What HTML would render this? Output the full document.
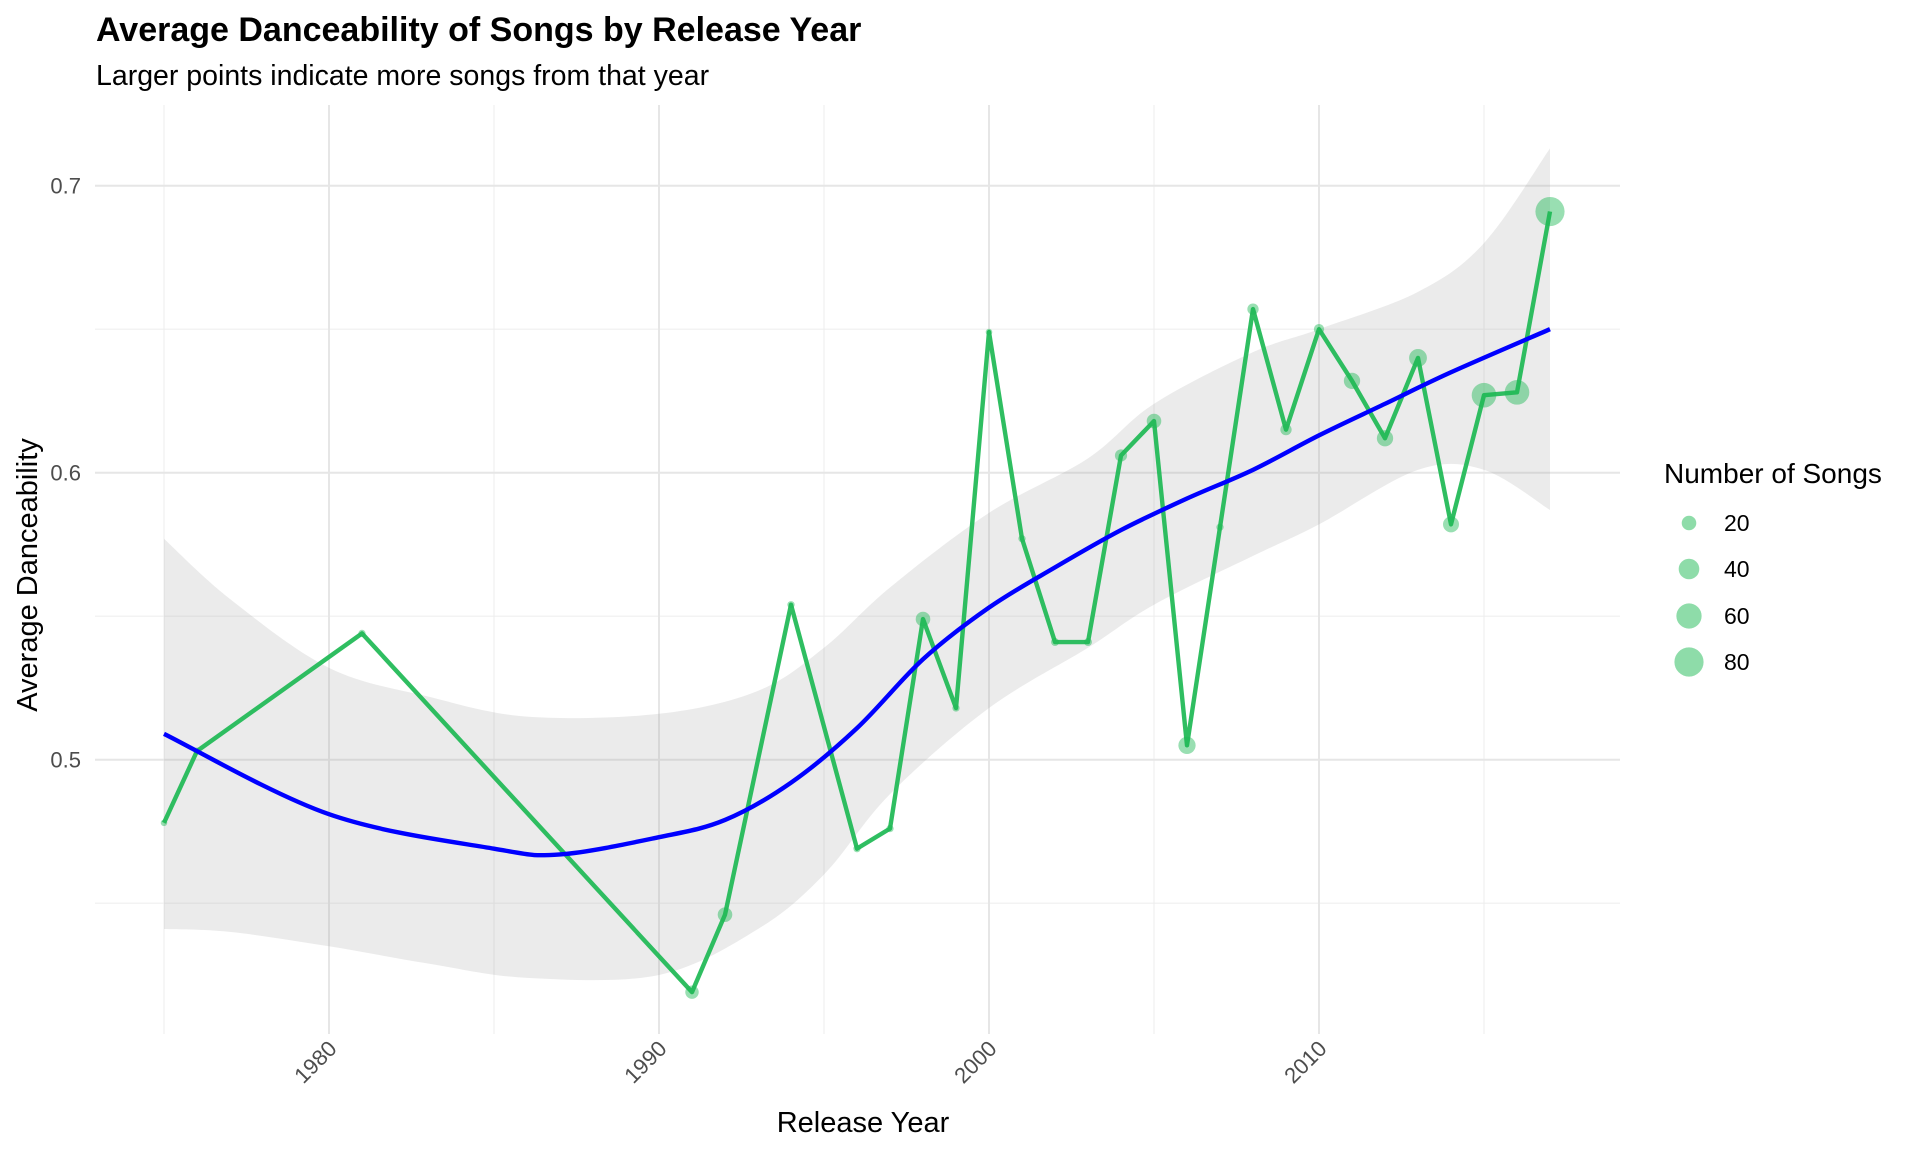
<!DOCTYPE html>
<html><head><meta charset="utf-8"><style>
html,body{margin:0;padding:0;background:#fff;}
svg{display:block;font-family:"Liberation Sans",Arial,sans-serif;}
</style></head><body>
<svg id="chart" width="1920" height="1152" viewBox="0 0 1920 1152" xmlns="http://www.w3.org/2000/svg">
<text x="96" y="41" font-size="34" font-weight="bold" fill="#000">Average Danceability of Songs by Release Year</text>
<text x="96" y="85" font-size="28.5" fill="#000">Larger points indicate more songs from that year</text>
<g id="grid"></g>
<g id="ribbon"></g>
<g id="series"></g>
<g id="axes"></g>
<text transform="translate(37,575) rotate(-90)" text-anchor="middle" font-size="29" fill="#000">Average Danceability</text>
<text x="863" y="1132" text-anchor="middle" font-size="29" fill="#000">Release Year</text>
<g id="legend">
<text x="1664" y="483" font-size="28" fill="#000">Number of Songs</text>
</g>
</svg>
<script>
const years = [1975,1976,1981,1991,1992,1994,1996,1997,1998,1999,2000,2001,2002,2003,2004,2005,2006,2007,2008,2009,2010,2011,2012,2013,2014,2015,2016,2017];
const danceability = [0.478,0.503,0.544,0.419,0.446,0.554,0.469,0.476,0.549,0.518,0.649,0.577,0.541,0.541,0.606,0.618,0.505,0.581,0.657,0.615,0.650,0.632,0.612,0.640,0.582,0.627,0.628,0.691];
const songCounts = [4,5,5,17,20,5,5,5,20,5,4,5,6,6,14,20,28,5,12,12,10,25,25,30,24,57,57,80];
const smoothYears = [1975,1980,1985,1987,1990,1992,1994,1996,1998,2000,2002,2004,2006,2008,2010,2012,2014,2017];
const smoothValues = [0.509,0.481,0.469,0.467,0.473,0.479,0.492,0.511,0.535,0.553,0.567,0.580,0.591,0.601,0.613,0.624,0.635,0.650];
const bandYears = [1975,1977,1980,1983,1986,1990,1993,1995,1997,2000,2003,2005,2008,2010,2013,2015,2017];
const bandUpper = [0.577,0.556,0.532,0.522,0.515,0.516,0.524,0.539,0.560,0.586,0.605,0.624,0.642,0.650,0.663,0.680,0.713];
const bandLower = [0.441,0.440,0.435,0.429,0.424,0.425,0.441,0.460,0.488,0.518,0.539,0.554,0.571,0.582,0.601,0.601,0.587];
const yTicks = [0.5,0.6,0.7];
const yMinor = [0.45,0.55,0.65];
const xTicks = [1980,1990,2000,2010];
const xMinor = [1975,1985,1995,2005,2015];
const legendCounts = [20,40,60,80];

const NS="http://www.w3.org/2000/svg";
const L=95,R=1620,T=105,B=1034;
function xs(y){return 329+(y-1980)*33;}
function ys(v){return 185.7+(0.7-v)*2870;}
function rs(n){return 1.63*Math.sqrt(n);}
function mk(tag,attrs,parent){const e=document.createElementNS(NS,tag);for(const k in attrs)e.setAttribute(k,attrs[k]);parent.appendChild(e);return e;}
function smoothPath(p,move){let d=(move?'M':'L')+p[0][0]+','+p[0][1];
for(let i=0;i<p.length-1;i++){const p0=p[Math.max(i-1,0)],p1=p[i],p2=p[i+1],p3=p[Math.min(i+2,p.length-1)];
const c1=[p1[0]+(p2[0]-p0[0])/6,p1[1]+(p2[1]-p0[1])/6],c2=[p2[0]-(p3[0]-p1[0])/6,p2[1]-(p3[1]-p1[1])/6];
d+=' C'+c1[0]+','+c1[1]+' '+c2[0]+','+c2[1]+' '+p2[0]+','+p2[1];}return d;}
const grid=document.getElementById('grid');
yMinor.forEach(v=>{const e=mk('line',{x1:L,x2:R,y1:ys(v),y2:ys(v),stroke:'#efefef','stroke-width':1.2},grid);

});
xMinor.forEach(v=>{const e=mk('line',{x1:xs(v),x2:xs(v),y1:T,y2:B,stroke:'#efefef','stroke-width':1.2},grid);

});
yTicks.forEach(v=>{const e=mk('line',{x1:L,x2:R,y1:ys(v),y2:ys(v),stroke:'#e6e6e6','stroke-width':2},grid);

});
xTicks.forEach(v=>{const e=mk('line',{x1:xs(v),x2:xs(v),y1:T,y2:B,stroke:'#e6e6e6','stroke-width':2},grid);

});
const rib=document.getElementById('ribbon');
const up=bandYears.map((y,i)=>[xs(y),ys(bandUpper[i])]);
const lo=bandYears.map((y,i)=>[xs(y),ys(bandLower[i])]).reverse();
const band=mk('path',{d:smoothPath(up,true)+' '+smoothPath(lo,false)+' Z',fill:'#999','fill-opacity':0.2},rib);


const ser=document.getElementById('series');
const line=mk('polyline',{points:years.map((y,i)=>xs(y)+','+ys(danceability[i])).join(' '),fill:'none',stroke:'#1DB954','stroke-width':4.4,'stroke-linejoin':'round','stroke-opacity':0.92},ser);


years.forEach((y,i)=>{const c=mk('circle',{cx:xs(y),cy:ys(danceability[i]),r:rs(songCounts[i]),fill:'#1DB954','fill-opacity':0.45},ser);

});
const sm=mk('path',{d:smoothPath(smoothYears.map((y,i)=>[xs(y),ys(smoothValues[i])]),true),fill:'none',stroke:'#0000FF','stroke-width':4.4,'stroke-linejoin':'round'},ser);


const ax=document.getElementById('axes');
yTicks.forEach(v=>{const t=mk('text',{x:81,y:ys(v)+8,'text-anchor':'end','font-size':22,fill:'#4d4d4d'},ax);t.textContent=v.toFixed(1);

});
xTicks.forEach(v=>{const x=xs(v)+9,y=1050;const t=mk('text',{x:x,y:y,'text-anchor':'end','font-size':22,fill:'#4d4d4d',transform:'rotate(-45 '+x+' '+y+')'},ax);t.textContent=v;

});
const lg=document.getElementById('legend');
const ly=[523,569,616,662];
legendCounts.forEach((n,i)=>{const c=mk('circle',{cx:1689,cy:ly[i],r:rs(n),fill:'#1DB954','fill-opacity':0.5},lg);


const t=mk('text',{x:1724,y:ly[i]+8,'font-size':23,fill:'#000'},lg);t.textContent=n;

});
</script>
</body></html>
